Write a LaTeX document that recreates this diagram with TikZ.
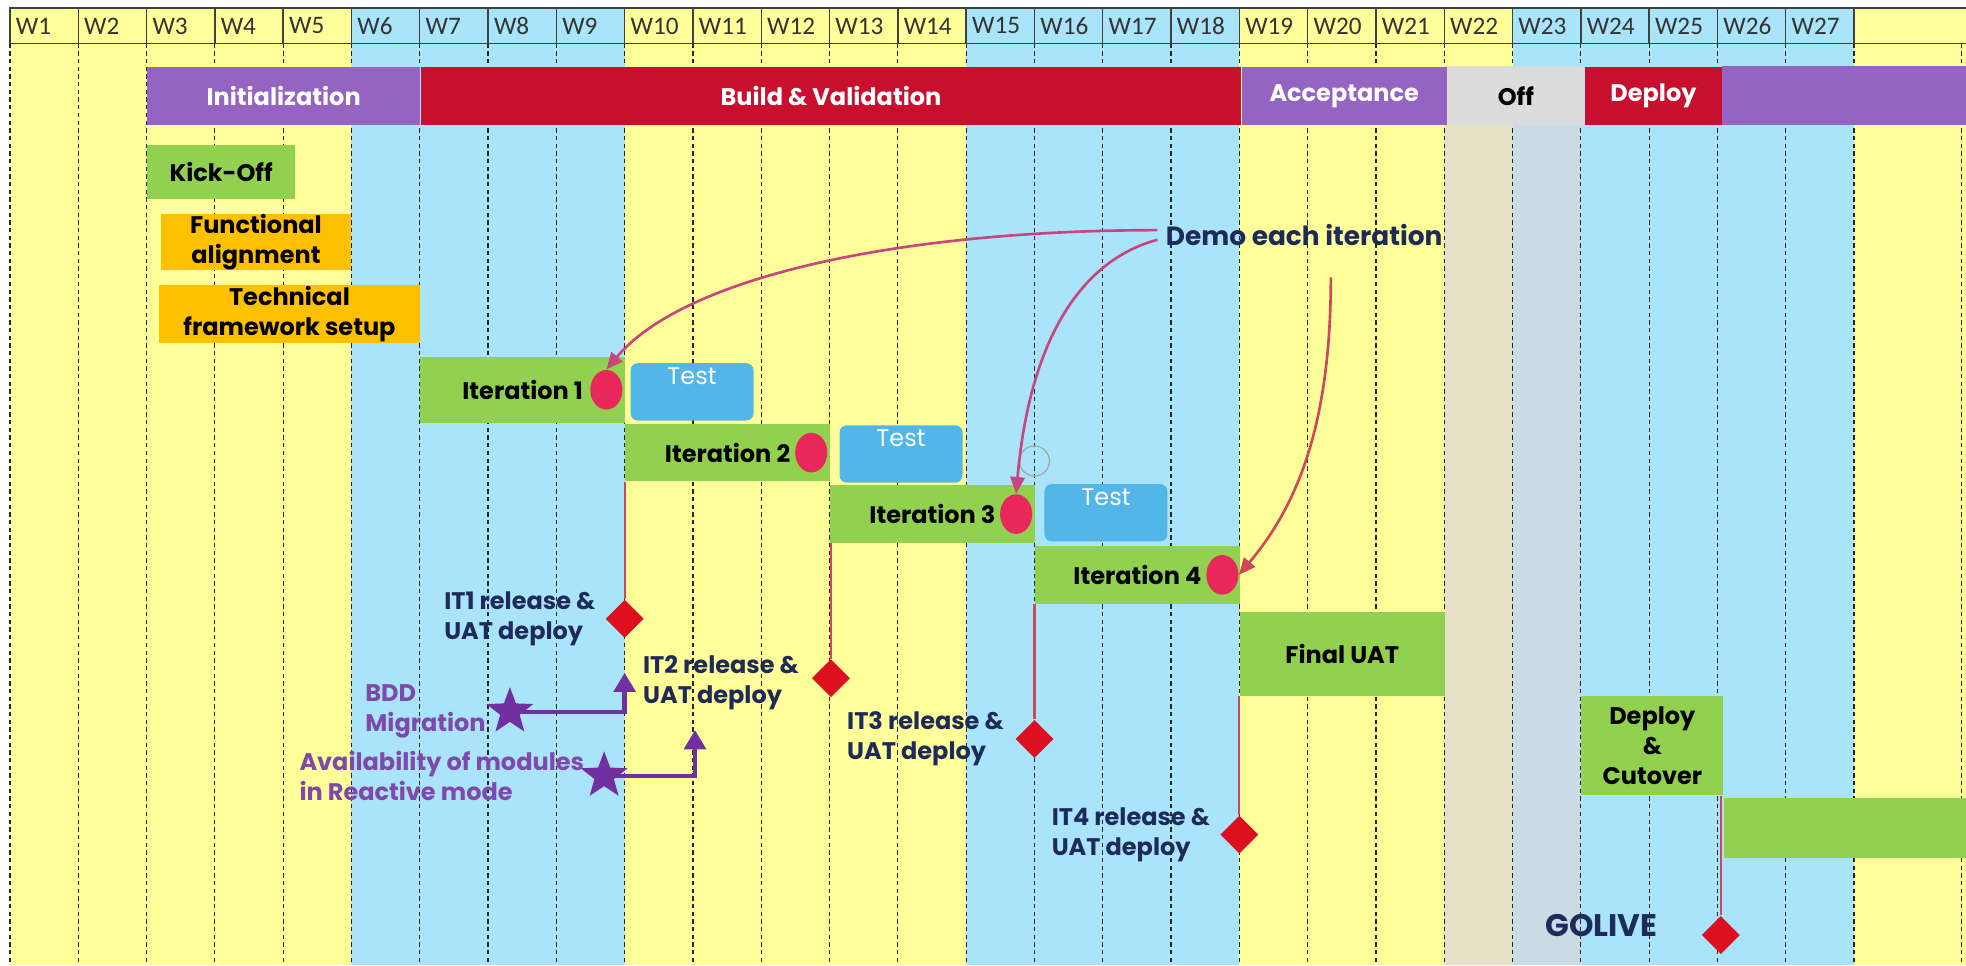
\documentclass[tikz,border=0pt]{standalone}
\usepackage{fontspec}
\setmainfont{Poppins}
\newfontfamily\hdfont{Carlito}
\usetikzlibrary{positioning,shapes.geometric,arrows.meta}
\definecolor{bgyel}{HTML}{FFFF99}
\definecolor{bgblu}{HTML}{A9E4FA}
\definecolor{offyel}{HTML}{E6E1C6}
\definecolor{offblu}{HTML}{C9DCE6}
\definecolor{phpur}{HTML}{9563C1}
\definecolor{phred}{HTML}{C8102E}
\definecolor{phgry}{HTML}{DCDCDC}
\definecolor{grn}{HTML}{92D050}
\definecolor{org}{HTML}{FFC000}
\definecolor{tst}{HTML}{53B6E8}
\definecolor{dotred}{HTML}{E8285A}
\definecolor{dmd}{HTML}{DD1020}
\definecolor{navy}{HTML}{1E2A5A}
\definecolor{purp}{HTML}{7030A0}
\definecolor{lav}{HTML}{7F48AA}
\definecolor{pinkln}{HTML}{C8457F}
\definecolor{redln}{HTML}{D0465A}
\begin{document}
\begin{tikzpicture}[>={Triangle[length=7pt,width=6pt]},
  font=\bfseries\fontsize{10}{12.5}\selectfont,
  colline/.style={gray!30!black, line width=0.5pt, dash pattern=on 1.8pt off 1.4pt},
  hdline/.style={black!75, line width=0.6pt},
  hdtext/.style={anchor=west, inner sep=0, text=black!80, font=\hdfont\mdseries\fontsize{10.5}{12}\selectfont},
  phase/.style={minimum height=0.86cm, inner sep=0, text=white},
  task/.style={anchor=north west, inner sep=0, align=center},
  test/.style={task, fill=tst, rounded corners=3pt, minimum width=1.8cm, minimum height=0.84cm},
  testlbl/.style={anchor=north, inner sep=2pt, text=white, font=\mdseries\fontsize{10}{12}\selectfont},
  dot/.style={ellipse, fill=dotred, minimum width=0.47cm, minimum height=0.58cm, inner sep=0},
  mile/.style={diamond, fill=dmd, minimum width=0.56cm, minimum height=0.56cm, inner sep=0},
  lbl/.style={align=left, text=navy, inner sep=1pt},
  plbl/.style={align=left, text=lav, inner sep=1pt},
  starsym/.style={star, star points=5, star point ratio=2.4, fill=purp, minimum size=0.72cm, inner sep=0},
  rel/.style={line width=0.9pt, redln},
  dmarrow/.style={->, line width=1.1pt, pinkln},
  bdd/.style={-{Triangle[length=8pt,width=9pt]}, line width=1.8pt, purp}]
\useasboundingbox (-0.146,0) rectangle (28.64,-14.13);
\fill[white] (-0.146,0) rectangle (28.64,-14.13);
\fill[bgyel] (0,-0.12) rectangle (28.64,-14.13);
\fill[bgblu] (5,-0.12) rectangle (9,-14.13);
\fill[bgblu] (14,-0.12) rectangle (18,-14.13);
\fill[bgblu] (22,-0.12) rectangle (27,-14.13);
\fill[offyel] (21,-0.97) rectangle (22,-14.13);
\fill[offblu] (22,-0.97) rectangle (23,-14.13);
\foreach \x in {0,...,27,28.57}
  \draw[colline] (\x,-0.64) -- (\x,-14.13);
\foreach \x in {1,...,27}{
  \draw[hdline] (\x-1,-0.12) rectangle (\x,-0.64);
  \node[hdtext] (w\x) at (\x-0.92,-0.38) {W\x};
}
\draw[hdline] (27,-0.12) -- (28.64,-0.12) (27,-0.64) -- (28.64,-0.64);

\node[phase, fill=phpur, minimum width=4cm, anchor=north west] (init) at (2,-0.97) {Initialization};
\node[phase, fill=phred, minimum width=12cm, right=0cm of init] (build) {Build \& Validation};
\node[phase, fill=phpur, minimum width=3cm, right=0cm of build] (accept) {Acceptance};
\node[phase, fill=phgry, minimum width=2cm, text=black, right=0cm of accept] (off) {Off};
\node[phase, fill=phred, minimum width=2cm, right=0cm of off] (deploy) {Deploy};
\fill[phpur] (deploy.north east) rectangle (28.64,-1.83);

\node[task, fill=grn, minimum width=2.17cm, minimum height=0.79cm] (kick) at (2,-2.12) {Kick-Off};
\node[task, fill=org, minimum width=2.77cm, minimum height=0.83cm] (func) at (2.21,-3.12) {Functional\\alignment};
\node[task, fill=org, minimum width=3.83cm, minimum height=0.85cm] (tech) at (2.17,-4.17) {Technical\\framework setup};

\node[task, fill=grn, minimum width=3cm, minimum height=0.96cm] (it1) at (6,-5.22) {Iteration 1};
\node[task, fill=grn, minimum width=3cm, minimum height=0.84cm] (it2) at (9,-6.2) {Iteration 2};
\node[task, fill=grn, minimum width=3cm, minimum height=0.84cm] (it3) at (12,-7.1) {Iteration 3};
\node[task, fill=grn, minimum width=3cm, minimum height=0.84cm] (it4) at (15,-7.99) {Iteration 4};
\node[test, label={[testlbl]north:Test}] (t1) at (9.08,-5.31) {};
\node[test, label={[testlbl]north:Test}] (t2) at (12.14,-6.22) {};
\node[test, label={[testlbl]north:Test}] (t3) at (15.14,-7.08) {};
\node[dot, left=0.04cm of it1.east] (e1) {};
\node[dot, left=0.04cm of it2.east] (e2) {};
\node[dot, left=0.04cm of it3.east] (e3) {};
\node[dot, left=0.02cm of it4.east] (e4) {};
\draw[gray!70, line width=0.5pt] (15,-6.75) circle (0.22);

\node[task, fill=grn, minimum width=3cm, minimum height=1.22cm] (uat) at (18,-8.96) {Final UAT};
\node[task, fill=grn, minimum width=2.08cm, minimum height=1.46cm] (cut) at (23,-10.18) {Deploy\\\&\\Cutover};
\fill[grn] (cut.east |- 0,-11.68) rectangle (28.64,-12.56);

\node[mile] (d1) at (9,-9.06) {};
\node[mile] (d2) at (12.02,-9.93) {};
\node[mile] (d3) at (15,-10.82) {};
\node[mile] (d4) at (18,-12.22) {};
\node[mile] (d5) at (25.05,-13.69) {};
\draw[rel] (d1 |- it2.south) -- (d1.north);
\draw[rel] (d2 |- it3.south) -- (d2.north);
\draw[rel] (d3 |- it4.south) -- (d3.north);
\draw[rel] (d4 |- uat.south) -- (d4.north);
\draw[rel] (d5 |- cut.south) -- (d5.north);
\node[lbl, left=0.1cm of d1] (l1) {IT1 release \&\\UAT deploy};
\node[lbl, left=0.14cm of d2, yshift=-0.07cm] (l2) {IT2 release \&\\UAT deploy};
\node[lbl, left=0.12cm of d3] (l3) {IT3 release \&\\UAT deploy};
\node[lbl, left=0.1cm of d4] (l4) {IT4 release \&\\UAT deploy};
\node[lbl, font=\bfseries\fontsize{13}{15}\selectfont, left=0.6cm of d5, yshift=0.14cm] (golive) {GOLIVE};

\node[starsym] (s1) at (7.32,-10.42) {};
\node[starsym] (s2) at (8.7,-11.36) {};
\coordinate (a1) at (9,-9.85);
\coordinate (a2) at (10.03,-10.69);
\draw[bdd] (s1.center) -| (a1);
\draw[bdd] (s2.center) -| (a2);
\node[plbl, left=0.1cm of s1] (bdd) {BDD\\Migration};
\node[plbl, left=0.04cm of s2] (avail) {Availability of modules\\in Reactive mode};

\node[text=navy, font=\bfseries\fontsize{11}{13}\selectfont] (demo) at (18.95,-3.44) {Demo each iteration};
\coordinate (dm) at (19.34,-4.06);
\draw[dmarrow] ([yshift=2pt]demo.west) to[out=180, in=50, out distance=3.7cm, in distance=1.8cm] (e1.north);
\draw[dmarrow] ([yshift=-2pt]demo.west) to[out=195, in=85, out distance=1.2cm, in distance=2.2cm] (e3.north);
\draw[dmarrow, redln] (dm) to[out=-90, in=50, out distance=2.2cm, in distance=1.3cm] (e4.east);
\end{tikzpicture}
\end{document}
